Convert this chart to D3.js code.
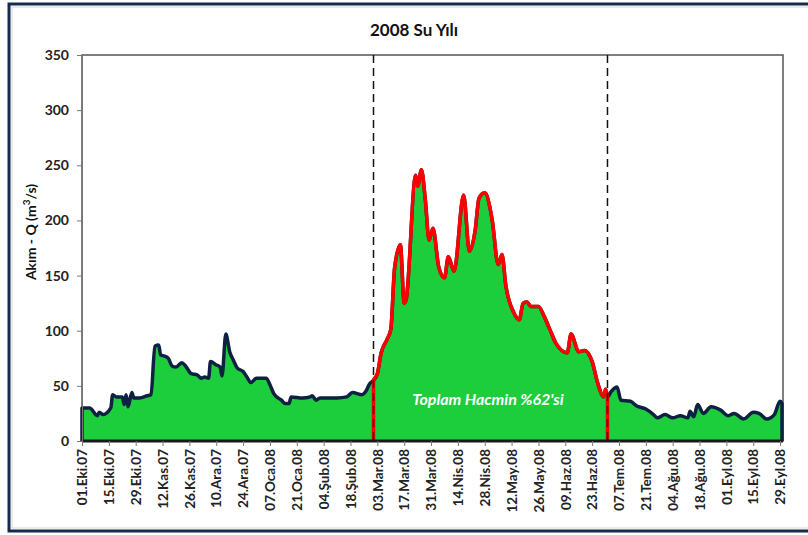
<!DOCTYPE html>
<html>
<head>
<meta charset="utf-8">
<script src="https://cdn.jsdelivr.net/npm/d3@7"></script>
<style>
  body { margin: 0; background: #fff; }
  svg { display: block; font-family: Lato, "Open Sans", sans-serif; }
</style>
</head>
<body>
<svg width="808" height="535"></svg>
<script>
// daily flow readings (date, m3/s)
const dates = [
  "2007-10-01","2007-10-05","2007-10-09","2007-10-10","2007-10-12","2007-10-16","2007-10-17","2007-10-19",
  "2007-10-22","2007-10-23","2007-10-24","2007-10-25","2007-10-27","2007-10-28","2007-10-31","2007-11-04",
  "2007-11-06","2007-11-08","2007-11-10","2007-11-11","2007-11-13","2007-11-15","2007-11-17","2007-11-19",
  "2007-11-22","2007-11-24","2007-11-27","2007-11-30","2007-12-02","2007-12-04","2007-12-06","2007-12-07",
  "2007-12-10","2007-12-12","2007-12-13","2007-12-15","2007-12-17","2007-12-19","2007-12-21","2007-12-24",
  "2007-12-26","2007-12-28","2007-12-31","2008-01-04","2008-01-05","2008-01-07","2008-01-09","2008-01-13",
  "2008-01-15","2008-01-17","2008-01-18","2008-01-24","2008-01-28","2008-01-29","2008-01-31","2008-02-02",
  "2008-02-11","2008-02-16","2008-02-19","2008-02-24","2008-02-26","2008-02-28","2008-03-01","2008-03-03",
  "2008-03-05","2008-03-08","2008-03-10","2008-03-12","2008-03-15","2008-03-17","2008-03-18","2008-03-23",
  "2008-03-24","2008-03-26","2008-03-28","2008-03-30","2008-04-01","2008-04-04","2008-04-07","2008-04-09",
  "2008-04-12","2008-04-17","2008-04-20","2008-04-23","2008-04-25","2008-04-28","2008-05-01","2008-05-02",
  "2008-05-05","2008-05-07","2008-05-09","2008-05-13","2008-05-16","2008-05-18","2008-05-20","2008-05-22",
  "2008-05-26","2008-05-29","2008-06-01","2008-06-04","2008-06-10","2008-06-12","2008-06-16","2008-06-19",
  "2008-06-23","2008-06-26","2008-06-29","2008-06-30","2008-07-01","2008-07-03","2008-07-06","2008-07-08",
  "2008-07-13","2008-07-16","2008-07-21","2008-07-25","2008-07-27","2008-07-31","2008-08-04","2008-08-08",
  "2008-08-12","2008-08-13","2008-08-15","2008-08-17","2008-08-20","2008-08-24","2008-08-29","2008-09-02",
  "2008-09-05","2008-09-10","2008-09-15","2008-09-18","2008-09-22","2008-09-26","2008-09-29","2008-09-30"
];
const flows = [
  30, 30, 23, 26, 24, 30, 42, 40,
  40, 33, 42, 31, 44, 39, 39, 41,
  42, 86, 87, 78, 77, 75, 68, 67,
  71, 68, 61, 60, 57, 58, 57, 72,
  69, 67, 59, 97, 81, 73, 66, 63,
  58, 53, 57, 57, 57, 51, 43, 37,
  34, 34, 40, 39, 40, 41, 37, 39,
  39, 40, 44, 42, 45, 52, 55, 61,
  80, 92, 101, 157, 178, 125, 128, 241,
  231, 246, 219, 182, 193, 158, 148, 167,
  154, 223, 172, 191, 220, 225, 209, 199,
  160, 169, 141, 117, 110, 125, 126, 122,
  122, 113, 101, 89, 80, 97, 81, 82,
  72, 52, 40, 47, 40, 45, 49, 37,
  36, 32, 29, 24, 21, 24, 21, 23,
  21, 27, 22, 33, 25, 31, 28, 23,
  25, 20, 26, 25, 20, 24, 36, 34
];

// flood period holding 62% of the yearly volume
const periodStart = "2008-03-01";
const periodEnd = "2008-07-01";

const yTicks = [0, 50, 100, 150, 200, 250, 300, 350];
const monthNames = ["Oca", "Şub", "Mar", "Nis", "May", "Haz", "Tem", "Ağu", "Eyl", "Eki", "Kas", "Ara"];

const parse = d3.timeParse("%Y-%m-%d");
const data = dates.map((d, i) => ({ date: parse(d), value: flows[i] }));
const pStart = parse(periodStart), pEnd = parse(periodEnd);

const svg = d3.select("svg");

// outer frame
svg.append("rect").attr("x", 9).attr("y", 4).attr("width", 820).attr("height", 527)
  .attr("fill", "#fff").attr("stroke", "#172a4c").attr("stroke-width", 3);
svg.append("rect").attr("x", 12).attr("y", 7).attr("width", 820).attr("height", 521)
  .attr("fill", "none").attr("stroke", "#d6d6d6").attr("stroke-width", 1);

const pLeft = 82, pRight = 782, pTop = 55, pBottom = 441;

const x = d3.scaleTime()
  .domain([parse("2007-10-01"), parse("2008-09-30")])
  .range([pLeft, pRight]);
const y = d3.scaleLinear().domain([0, 350]).range([pBottom, pTop]);

// plot frame
svg.append("rect").attr("x", pLeft).attr("y", pTop)
  .attr("width", pRight + 1 - pLeft).attr("height", pBottom - pTop)
  .attr("fill", "none").attr("stroke", "#555").attr("stroke-width", 1.5);

// area fill
const curve = d3.curveMonotoneX;
const area = d3.area().curve(curve).x(d => x(d.date)).y0(y(0)).y1(d => y(d.value));
svg.append("path").datum(data)
  .attr("d", area)
  .attr("fill", "#1ccd3c");

// outline with closing verticals
const line = d3.line().curve(curve).x(d => x(d.date)).y(d => y(d.value));
const withEnds = arr => [{ date: arr[0].date, value: 0 }, ...arr, { date: arr[arr.length - 1].date, value: 0 }];

svg.append("path").datum(withEnds(data))
  .attr("d", line)
  .attr("fill", "none")
  .attr("stroke", "#0f2142")
  .attr("stroke-width", 3.5)
  .attr("stroke-linejoin", "round");

const period = data.filter(d => d.date >= pStart && d.date <= pEnd);
svg.append("path").datum(withEnds(period))
  .attr("d", line)
  .attr("fill", "none")
  .attr("stroke", "#ff0000")
  .attr("stroke-width", 3.5)
  .attr("stroke-linejoin", "round");

// period markers
[pStart, pEnd].forEach(d => {
  svg.append("line")
    .attr("x1", x(d)).attr("x2", x(d))
    .attr("y1", pTop).attr("y2", pBottom)
    .attr("stroke", "#111").attr("stroke-width", 1.5)
    .attr("stroke-dasharray", "8,5");
});

// x axis line
svg.append("line").attr("x1", pLeft).attr("x2", pRight + 1)
  .attr("y1", pBottom).attr("y2", pBottom)
  .attr("stroke", "#1a1a1a").attr("stroke-width", 3);

// axes
const yAxis = svg.append("g")
  .attr("transform", `translate(${pLeft},0)`)
  .call(d3.axisLeft(y).tickValues(yTicks).tickSize(5).tickPadding(8));
yAxis.select(".domain").attr("stroke", "#777");
yAxis.selectAll(".tick line").attr("stroke", "#777");
yAxis.selectAll("text")
  .attr("font-size", 14).attr("font-weight", "bold").attr("fill", "#222")
  .attr("font-family", "Lato, sans-serif");

const fmt = d => d3.timeFormat("%d")(d) + "." + monthNames[d.getMonth()] + "." + d3.timeFormat("%y")(d);
const xTicks = d3.timeDay.range(parse("2007-10-01"), parse("2008-10-01"), 14);
const xAxis = svg.append("g")
  .attr("transform", `translate(0,${pBottom})`)
  .call(d3.axisBottom(x).tickValues(xTicks).tickSize(5).tickFormat(fmt));
xAxis.select(".domain").remove();
xAxis.selectAll(".tick line").attr("stroke", "#777");
xAxis.selectAll("text")
  .attr("transform", "rotate(-90)")
  .attr("x", -8).attr("y", 0).attr("dy", "0.35em")
  .style("text-anchor", "end")
  .attr("font-size", 13.5).attr("font-weight", "bold").attr("fill", "#222")
  .attr("font-family", "Lato, sans-serif");

// title
svg.append("text")
  .attr("x", 414).attr("y", 36)
  .attr("text-anchor", "middle")
  .attr("font-size", 17).attr("font-weight", "bold").attr("fill", "#111")
  .text("2008 Su Yılı");

// y axis title
const yt = svg.append("text")
  .attr("transform", "translate(36,232) rotate(-90)")
  .attr("text-anchor", "middle")
  .attr("font-size", 14).attr("font-weight", "bold").attr("fill", "#111");
yt.append("tspan").text("Akım - Q (m");
yt.append("tspan").attr("baseline-shift", "super").attr("font-size", 10).text("3");
yt.append("tspan").text("/s)");

// volume note
svg.append("text")
  .attr("x", 488).attr("y", 405)
  .attr("text-anchor", "middle")
  .attr("font-size", 16).attr("font-weight", "bold").attr("font-style", "italic")
  .attr("fill", "#fff")
  .text("Toplam Hacmin %62'si");
</script>
</body>
</html>
